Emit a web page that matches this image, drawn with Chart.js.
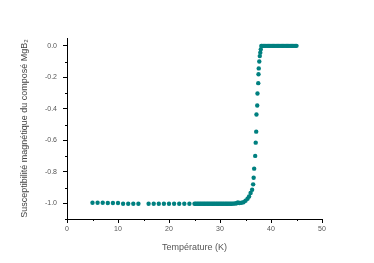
<!DOCTYPE html>
<html>
<head>
<meta charset="utf-8">
<script src="https://cdn.jsdelivr.net/npm/chart.js@4"></script>
<style>
    html, body { margin: 0; padding: 0; background: #fff; }
    #wrap { width: 374px; height: 263px; }
</style>
</head>
<body>
<div id="wrap"><canvas id="chart"></canvas></div>
<script>
// Temperature (K) and susceptibility values
const temperature = [
    5, 6, 7, 8, 9, 10, 11, 12, 13, 14,
    16, 17, 18, 19, 20, 21, 22, 23, 24,
    25, 25.25, 25.5, 25.75, 26, 26.25, 26.5, 26.75, 27, 27.25, 27.5, 27.75,
    28, 28.25, 28.5, 28.75, 29, 29.25, 29.5, 29.75, 30, 30.25, 30.5, 30.75,
    31, 31.25, 31.5, 31.75, 32, 32.25, 32.5, 32.75, 33, 33.25, 33.5,
    33.8, 34.2, 34.6, 35.0, 35.4, 35.7, 36.0, 36.3, 36.5, 36.6, 36.7, 36.9,
    37.0, 37.1, 37.15, 37.3, 37.35, 37.5, 37.55, 37.6, 37.7, 37.8, 37.9, 38.0, 38.1,
    38.25, 38.5, 38.75, 39, 39.25, 39.5, 39.75, 40, 40.25, 40.5, 40.75,
    41, 41.25, 41.5, 41.75, 42, 42.25, 42.5, 42.75, 43, 43.25, 43.5, 43.75,
    44, 44.25, 44.5, 44.75, 45,
];
const susceptibility = [
    -0.997, -0.997, -0.997, -0.998, -0.998, -0.998, -1.003, -1.003, -1.003, -1.003,
    -1.003, -1.003, -1.003, -1.003, -1.003, -1.003, -1.003, -1.003, -1.003,
    -1.003, -1.003, -1.003, -1.003, -1.003, -1.003, -1.003, -1.003, -1.003, -1.003, -1.003, -1.003,
    -1.003, -1.003, -1.003, -1.003, -1.003, -1.003, -1.003, -1.003, -1.003, -1.003, -1.003, -1.003,
    -1.003, -1.003, -1.003, -1.003, -1.003, -1.003, -1.002, -1.002, -1.001, -1.0, -0.995,
    -0.998, -0.997, -0.994, -0.984, -0.971, -0.957, -0.935, -0.914, -0.880, -0.838, -0.780, -0.699,
    -0.615, -0.545, -0.436, -0.379, -0.303, -0.237, -0.180, -0.143, -0.099, -0.065, -0.043, -0.022, -0.001,
    0, 0, 0, 0, 0, 0, 0, 0, 0, 0, 0,
    0, 0, 0, 0, 0, 0, 0, 0, 0, 0, 0, 0,
    0, 0, 0, 0, 0,
];
const xTicks = [0, 10, 20, 30, 40, 50];
const yTicks = [0, -0.2, -0.4, -0.6, -0.8, -1.0];
const xMinor = [5, 15, 25, 35, 45];
const yMinor = [-0.1, -0.3, -0.5, -0.7, -0.9, -1.1];

const teal = "#008080";
const points = temperature.map((t, i) => ({ x: t, y: susceptibility[i] }));

// short minor tick marks on both axes, y axis line runs a bit past the x axis
const minorTicks = {
    id: "minorTicks",
    afterDraw(c) {
        const ctx = c.ctx;
        const xs = c.scales.x;
        const ys = c.scales.y;
        ctx.save();
        ctx.strokeStyle = "#000";
        ctx.lineWidth = 1;
        ctx.beginPath();
        xMinor.forEach((v) => {
            const px = Math.round(xs.getPixelForValue(v)) + 0.5;
            ctx.moveTo(px, xs.top);
            ctx.lineTo(px, xs.top + 2);
        });
        yMinor.forEach((v) => {
            const py = Math.round(ys.getPixelForValue(v)) + 0.5;
            ctx.moveTo(ys.right, py);
            ctx.lineTo(ys.right - 2, py);
        });
        const ax = Math.round(ys.right) + 0.5;
        ctx.moveTo(ax, ys.bottom);
        ctx.lineTo(ax, ys.bottom + 3);
        ctx.stroke();
        ctx.restore();
    },
};

const tickFont = { family: "Arial, 'Liberation Sans', sans-serif", size: 7 };
const titleFont = { family: "Arial, 'Liberation Sans', sans-serif", size: 9 };

new Chart(document.querySelector("#chart").getContext("2d"), {
    type: "scatter",
    data: {
        datasets: [
            {
                label: "MgB2",
                data: points,
                backgroundColor: teal,
                borderColor: teal,
                pointRadius: 2.2,
                pointBorderWidth: 0,
                pointHoverRadius: 2.2,
            },
        ],
    },
    options: {
        responsive: true,
        maintainAspectRatio: false,
        animation: false,
        layout: { padding: { top: 38, right: 52, left: 0, bottom: 0 } },
        plugins: { legend: { display: false }, tooltip: { enabled: false } },
        scales: {
            x: {
                type: "linear",
                min: 0,
                max: 50,
                afterBuildTicks: (s) => { s.ticks = xTicks.map((v) => ({ value: v })); },
                afterFit: (s) => { s.height = 44; },
                grid: { drawOnChartArea: false, tickLength: 4, color: "#000" },
                border: { display: true, color: "#000", width: 1 },
                ticks: { font: tickFont, color: "#555", padding: 2, maxRotation: 0 },
                title: {
                    display: true,
                    text: "Température (K)",
                    font: titleFont,
                    color: "#555",
                    padding: { top: 0, bottom: 10 },
                },
            },
            y: {
                type: "linear",
                min: -1.1,
                max: 0.05,
                afterBuildTicks: (s) => { s.ticks = yTicks.map((v) => ({ value: v })); },
                afterFit: (s) => { s.width = 67; },
                grid: { drawOnChartArea: false, tickLength: 4, color: "#000" },
                border: { display: true, color: "#000", width: 1 },
                ticks: {
                    font: tickFont,
                    color: "#555",
                    padding: 6,
                    callback: (v) => v.toFixed(1),
                },
                title: {
                    display: true,
                    text: "Susceptibilité magnétique du composé MgB₂",
                    font: titleFont,
                    color: "#444",
                    padding: { top: 19, bottom: 0 },
                },
            },
        },
    },
    plugins: [minorTicks],
});
</script>
</body>
</html>
